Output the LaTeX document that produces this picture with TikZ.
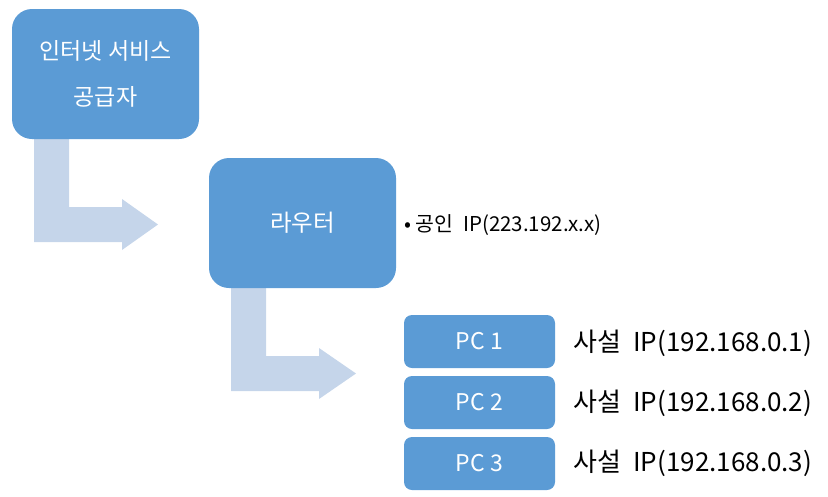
\documentclass[tikz,border=0pt]{standalone}
\usepackage{fontspec}
\setmainfont{Noto Sans CJK KR}
\definecolor{boxblue}{RGB}{91,155,213}
\definecolor{arrowblue}{RGB}{197,213,234}
\begin{document}
\begin{tikzpicture}[x=1pt,y=-1pt,
  bigbox/.style={fill=boxblue,draw=none,rounded corners=20pt,text=white,align=center,inner sep=0pt,minimum width=187pt,minimum height=130pt},
  pcbox/.style={fill=boxblue,draw=none,rounded corners=8pt,text=white,inner sep=0pt,minimum width=151pt,minimum height=53pt,font=\fontsize{23}{27}\selectfont},
  iplabel/.style={anchor=west,inner sep=0pt,font=\fontsize{26}{30}\selectfont},
  bent/.style={fill=arrowblue,draw=none}]
\useasboundingbox (0,0) rectangle (828,496);
% bent arrows
\fill[bent] (34,139) -- (69,139) -- (69,207) -- (122,207) -- (122,199) -- (158,224.5) -- (122,250) -- (122,242) -- (34,242) -- cycle;
\fill[bent] (231,288) -- (266,288) -- (266,356) -- (319,356) -- (319,348) -- (356,373.5) -- (319,399) -- (319,391) -- (231,391) -- cycle;
% boxes
\node[bigbox,font=\fontsize{23}{46}\selectfont] (isp) at (105.5,74) {인터넷 서비스\\공급자};
\node[bigbox,font=\fontsize{23.5}{28}\selectfont] (router) at (302.5,223) {라우터};
\node[anchor=west,inner sep=0pt,font=\fontsize{20.5}{24}\selectfont] (pubip) at (404,225) {• 공인\hspace{0.25em} IP(223.192.x.x)};
\node[pcbox] (pc1) at (479.5,341.5) {PC 1};
\node[pcbox] (pc2) at (479.5,402.5) {PC 2};
\node[pcbox] (pc3) at (479.5,463.5) {PC 3};
\node[iplabel] (ip1) at (573,343) {사설\hspace{0.25em} IP(192.168.0.1)};
\node[iplabel] (ip2) at (573,403) {사설\hspace{0.25em} IP(192.168.0.2)};
\node[iplabel] (ip3) at (573,463) {사설\hspace{0.25em} IP(192.168.0.3)};
\end{tikzpicture}
\end{document}
